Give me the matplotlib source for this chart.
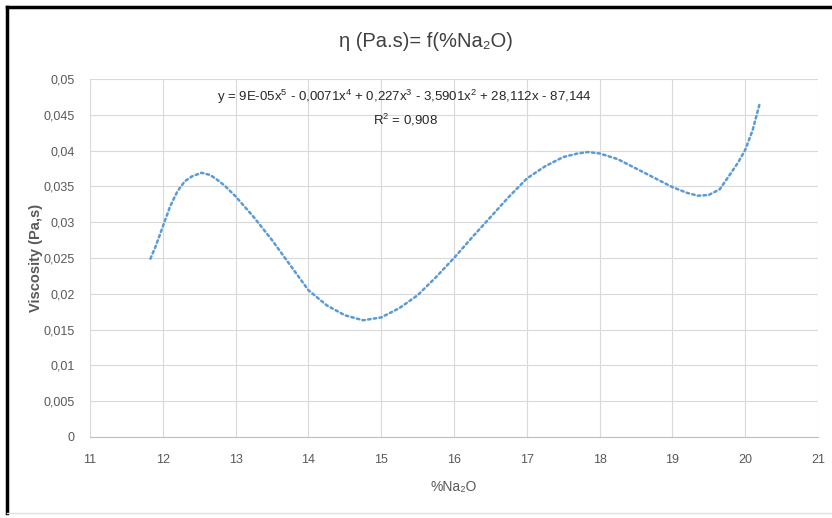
import matplotlib
matplotlib.use("Agg")
import matplotlib.pyplot as plt
from matplotlib.ticker import FuncFormatter, MultipleLocator

na2o = [11.83, 11.9, 12.0, 12.1, 12.2, 12.3, 12.4, 12.53, 12.65, 12.75, 12.85, 13.0,
        13.25, 13.5, 13.75, 14.0, 14.25, 14.5, 14.75, 15.0, 15.25, 15.5, 15.75, 16.0,
        16.25, 16.5, 16.75, 17.0, 17.25, 17.5, 17.7, 17.84, 18.0, 18.25, 18.5, 18.75,
        19.0, 19.2, 19.35, 19.5, 19.65, 19.8, 19.9, 20.0, 20.1, 20.2]
viscosity = [0.0249, 0.0266, 0.0294, 0.0322, 0.0343, 0.0357, 0.0364, 0.0369, 0.0366, 0.0359,
             0.0351, 0.0336, 0.0307, 0.0275, 0.0240, 0.0205, 0.0184, 0.0170, 0.0163, 0.0167,
             0.0180, 0.0198, 0.0223, 0.0250, 0.0279, 0.0307, 0.0335, 0.0361, 0.0378, 0.0391,
             0.0396, 0.0398, 0.0396, 0.0388, 0.0375, 0.0362, 0.0349, 0.0341, 0.0337, 0.0338,
             0.0346, 0.0368, 0.0383, 0.0401, 0.0428, 0.0466]

title = "η (Pa.s)= f(%Na₂O)"
equation = "y = 9E-05x$^5$ - 0,0071x$^4$ + 0,227x$^3$ - 3,5901x$^2$ + 28,112x - 87,144"
r2 = "R$^2$ = 0,908"

plt.rcParams['font.family'] = ['Liberation Sans', 'DejaVu Sans']
plt.rcParams['mathtext.fontset'] = 'custom'
plt.rcParams['mathtext.rm'] = 'Liberation Sans'

fig = plt.figure(figsize=(8.32, 5.18), dpi=100)
ax = fig.add_axes([0.1082, 0.1564, 0.8750, 0.6911])

ax.plot(na2o, viscosity, color='#5b9bd5', linestyle=(0, (1, 1.3)), linewidth=1.8,
        dash_capstyle='round')

ax.set_xlim(11, 21)
ax.set_ylim(0, 0.05)
ax.xaxis.set_major_locator(MultipleLocator(1))
ax.yaxis.set_major_locator(MultipleLocator(0.005))
ax.yaxis.set_major_formatter(FuncFormatter(
    lambda v, p: "0" if abs(v) < 1e-9 else ("%g" % round(v, 4)).replace('.', ',')))

ax.grid(True, color='#d9d9d9', linewidth=0.8)
ax.set_axisbelow(True)
for s in ['top', 'right', 'left']:
    ax.spines[s].set_visible(False)
ax.spines['bottom'].set_color('#bfbfbf')
ax.tick_params(length=0, colors='#595959', labelsize=9)
ax.tick_params(axis='x', pad=12)
ax.tick_params(axis='y', pad=11)

ax.set_xlabel("%Na₂O", fontsize=10, color='#595959', labelpad=10)
ax.set_ylabel("Viscosity (Pa,s)", fontsize=10.5, color='#595959', fontweight='bold')
ax.yaxis.set_label_coords(-0.065, 0.5)

fig.text(0.512, 0.919, title, ha='center', va='center', fontsize=14.5, color='#404040')
fig.text(0.486, 0.813, equation, ha='center', va='center', fontsize=9.5, color='#262626')
fig.text(0.487, 0.768, r2, ha='center', va='center', fontsize=9.5, color='#262626')

# black frame around the chart
fig.add_artist(plt.Line2D([0.009, 0.009], [0.01, 0.987], color='black', linewidth=2.5,
                          transform=fig.transFigure))
fig.add_artist(plt.Line2D([0.008, 1.0], [0.987, 0.987], color='black', linewidth=2.5,
                          transform=fig.transFigure))
fig.add_artist(plt.Line2D([0.009, 1.0], [0.01, 0.01], color='#e0e0e0', linewidth=1.0,
                          transform=fig.transFigure))

fig.savefig("out.png", dpi=100)
